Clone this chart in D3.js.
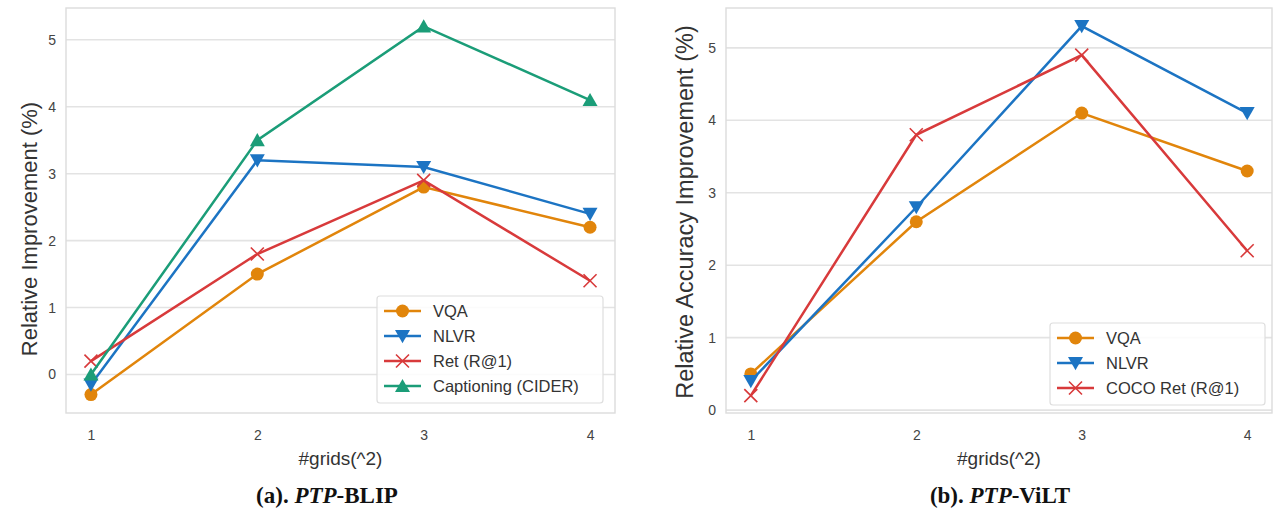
<!DOCTYPE html>
<html><head><meta charset="utf-8">
<script src="https://cdn.jsdelivr.net/npm/d3@7"></script>
<style>body{margin:0;background:#fff}svg{display:block}</style>
</head><body>
<svg id="c" width="1276" height="522"></svg>
<script>
const grids = [1, 2, 3, 4];
const xTicks = [1, 2, 3, 4];
const yTicksA = [0, 1, 2, 3, 4, 5];
const yTicksB = [0, 1, 2, 3, 4, 5];

const blipVQA = [-0.3, 1.5, 2.8, 2.2];
const blipNLVR = [-0.15, 3.2, 3.1, 2.4];
const blipRet = [0.2, 1.8, 2.9, 1.4];
const blipCap = [0.0, 3.5, 5.2, 4.1];

const viltVQA = [0.5, 2.6, 4.1, 3.3];
const viltNLVR = [0.4, 2.8, 5.3, 4.1];
const viltRet = [0.2, 3.8, 4.9, 2.2];

const C = {orange:"#e1850b", blue:"#1c74c3", red:"#d83a3b", green:"#1b9d78"};

const svg = d3.select("#c");
const FONT = "'Liberation Sans', Arial, sans-serif";

function marker(g, type, x, y, color) {
  if (type === "o") {
    g.append("circle").attr("cx", x).attr("cy", y).attr("r", 6.5).attr("fill", color);
  } else if (type === "v") {
    const s = 7.5;
    g.append("path").attr("d", `M${x-s},${y-s*0.8}L${x+s},${y-s*0.8}L${x},${y+s*0.95}Z`).attr("fill", color);
  } else if (type === "^") {
    const s = 7.5;
    g.append("path").attr("d", `M${x-s},${y+s*0.8}L${x+s},${y+s*0.8}L${x},${y-s*0.95}Z`).attr("fill", color);
  } else if (type === "x") {
    const s = 6.5;
    g.append("path").attr("d", `M${x-s},${y-s}L${x+s},${y+s}M${x-s},${y+s}L${x+s},${y-s}`)
      .attr("stroke", color).attr("stroke-width", 1.6).attr("fill", "none");
  }
}

function panel(cfg) {
  const {x0, x1, y0, y1, ydom, yticks, series, ylabel, ylabelSize, caption, legend} = cfg;
  const x = d3.scaleLinear().domain([0.85, 4.15]).range([x0, x1]);
  const y = d3.scaleLinear().domain(ydom).range([y1, y0]);
  const g = svg.append("g");
  g.selectAll(null).data(yticks).enter().append("line")
    .attr("x1", x0).attr("x2", x1).attr("y1", d => y(d)).attr("y2", d => y(d))
    .attr("stroke", "#e3e3e3").attr("stroke-width", 1.6);
  g.append("rect").attr("x", x0).attr("y", y0).attr("width", x1 - x0).attr("height", y1 - y0)
    .attr("fill", "none").attr("stroke", "#dcdcdc").attr("stroke-width", 1.4);
  const ya = g.append("g").attr("transform", `translate(${x0},0)`)
    .call(d3.axisLeft(y).tickValues(yticks).tickSize(0).tickPadding(10).tickFormat(d3.format("d")));
  ya.select(".domain").remove();
  ya.selectAll("text").attr("font-family", FONT).attr("font-size", 14).attr("fill", "#444");
  const xa = g.append("g").attr("transform", `translate(0,${y1})`)
    .call(d3.axisBottom(x).tickValues(xTicks).tickSize(0).tickPadding(17).tickFormat(d3.format("d")));
  xa.select(".domain").remove();
  xa.selectAll("text").attr("font-family", FONT).attr("font-size", 14).attr("fill", "#444");
  g.append("text").attr("transform", `translate(${cfg.ylabelX},${cfg.ylabelY}) rotate(-90)`)
    .attr("text-anchor", "middle").attr("font-family", FONT).attr("font-size", ylabelSize)
    .attr("fill", "#333").text(ylabel);
  g.append("text").attr("x", (x0 + x1) / 2).attr("y", 465).attr("text-anchor", "middle")
    .attr("font-family", FONT).attr("font-size", 19).attr("fill", "#333").text("#grids(^2)");
  const cap = g.append("text").attr("x", cfg.capX).attr("y", 503).attr("text-anchor", "middle")
    .attr("font-family", "'Liberation Serif', 'Times New Roman', serif").attr("font-size", 23)
    .attr("font-weight", "bold").attr("fill", "#111");
  cap.append("tspan").text(caption[0]);
  cap.append("tspan").attr("font-style", "italic").text("PTP");
  cap.append("tspan").text(caption[1]);
  const line = d3.line().x((d, i) => x(grids[i])).y(d => y(d));
  series.forEach(s => {
    g.append("path").datum(s.values).attr("d", line).attr("fill", "none")
      .attr("stroke", s.color).attr("stroke-width", 2.5);
    s.values.forEach((v, i) => marker(g, s.m, x(grids[i]), y(v), s.color));
  });
  const L = legend;
  g.append("rect").attr("x", L.x).attr("y", L.y).attr("width", L.w).attr("height", L.h)
    .attr("rx", 3).attr("fill", "rgba(255,255,255,0.85)").attr("stroke", "#dedede").attr("stroke-width", 1.2);
  series.forEach((s, i) => {
    const cy = L.y + 15 + i * 25;
    g.append("line").attr("x1", L.x + 7).attr("x2", L.x + 44).attr("y1", cy).attr("y2", cy)
      .attr("stroke", s.color).attr("stroke-width", 2.5);
    marker(g, s.m, L.x + 25.5, cy, s.color);
    g.append("text").attr("x", L.x + 56).attr("y", cy + 6).attr("font-family", FONT)
      .attr("font-size", 16.5).attr("fill", "#333").text(s.name);
  });
}

panel({
  x0: 66, x1: 615, y0: 8, y1: 413, ydom: [-0.575, 5.475], yticks: yTicksA,
  ylabel: "Relative Improvement (%)", ylabelX: 37, ylabelY: 229, ylabelSize: 22, capX: 327,
  caption: ["(a). ", "-BLIP"],
  series: [
    {name: "VQA", values: blipVQA, color: C.orange, m: "o"},
    {name: "NLVR", values: blipNLVR, color: C.blue, m: "v"},
    {name: "Ret (R@1)", values: blipRet, color: C.red, m: "x"},
    {name: "Captioning (CIDER)", values: blipCap, color: C.green, m: "^"}
  ],
  legend: {x: 377, y: 296, w: 226, h: 107}
});

panel({
  x0: 726, x1: 1272, y0: 8, y1: 413, ydom: [-0.04, 5.55], yticks: yTicksB,
  ylabel: "Relative Accuracy Improvement (%)", ylabelX: 693, ylabelY: 212, ylabelSize: 23.5, capX: 1000,
  caption: ["(b). ", "-ViLT"],
  series: [
    {name: "VQA", values: viltVQA, color: C.orange, m: "o"},
    {name: "NLVR", values: viltNLVR, color: C.blue, m: "v"},
    {name: "COCO Ret (R@1)", values: viltRet, color: C.red, m: "x"}
  ],
  legend: {x: 1050, y: 323, w: 215, h: 82}
});
</script>
</body></html>
